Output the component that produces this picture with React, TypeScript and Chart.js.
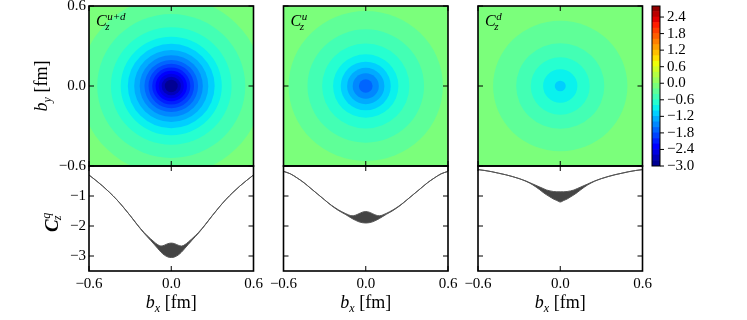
import React, { useEffect, useRef } from "react";
import { Chart, registerables } from "chart.js";
Chart.register(...registerables);

// ---------- data ----------
const bx = [-0.6, -0.55, -0.5, -0.45, -0.4, -0.35, -0.3, -0.25, -0.2, -0.15, -0.125, -0.1, -0.075, -0.05, -0.025, 0,
  0.025, 0.05, 0.075, 0.1, 0.125, 0.15, 0.2, 0.25, 0.3, 0.35, 0.4, 0.45, 0.5, 0.55, 0.6];

const udUpper = [-0.30, -0.48, -0.67, -0.88, -1.11, -1.37, -1.65, -1.94, -2.21, -2.43, -2.53, -2.62, -2.67, -2.64, -2.59, -2.57,
  -2.59, -2.64, -2.67, -2.62, -2.53, -2.43, -2.21, -1.94, -1.65, -1.37, -1.11, -0.88, -0.67, -0.48, -0.30];
const udLower = [-0.30, -0.48, -0.67, -0.88, -1.11, -1.37, -1.65, -1.95, -2.23, -2.48, -2.61, -2.74, -2.87, -2.97, -3.03, -3.05,
  -3.03, -2.97, -2.87, -2.74, -2.61, -2.48, -2.23, -1.95, -1.65, -1.37, -1.11, -0.88, -0.67, -0.48, -0.30];

const uUpper = [-0.18, -0.26, -0.40, -0.56, -0.75, -0.94, -1.13, -1.31, -1.46, -1.58, -1.63, -1.66, -1.64, -1.59, -1.54, -1.52,
  -1.54, -1.59, -1.64, -1.66, -1.63, -1.58, -1.46, -1.31, -1.13, -0.94, -0.75, -0.56, -0.40, -0.26, -0.18];
const uLower = [-0.18, -0.26, -0.40, -0.56, -0.75, -0.94, -1.13, -1.32, -1.48, -1.61, -1.68, -1.75, -1.81, -1.86, -1.89, -1.90,
  -1.89, -1.86, -1.81, -1.75, -1.68, -1.61, -1.48, -1.32, -1.13, -0.94, -0.75, -0.56, -0.40, -0.26, -0.18];

const dUpper = [-0.12, -0.15, -0.19, -0.24, -0.29, -0.35, -0.42, -0.50, -0.60, -0.70, -0.75, -0.80, -0.83, -0.85, -0.86, -0.86,
  -0.86, -0.85, -0.83, -0.80, -0.75, -0.70, -0.60, -0.50, -0.42, -0.35, -0.29, -0.24, -0.19, -0.15, -0.12];
const dLower = [-0.12, -0.15, -0.19, -0.24, -0.29, -0.35, -0.42, -0.51, -0.63, -0.79, -0.88, -0.96, -1.03, -1.10, -1.15, -1.20,
  -1.15, -1.10, -1.03, -0.96, -0.88, -0.79, -0.63, -0.51, -0.42, -0.35, -0.29, -0.24, -0.19, -0.15, -0.12];

// radial profiles of the 2D maps, radius in fm
const heatR = [0, 0.05, 0.1, 0.15, 0.2, 0.25, 0.3, 0.35, 0.4, 0.45, 0.5, 0.55, 0.6, 0.65, 0.7, 0.75, 0.8, 0.85];
const heatUD = [-2.95, -2.79, -2.32, -1.91, -1.57, -1.29, -1.07, -0.86, -0.70, -0.575, -0.48, -0.38, -0.30, -0.22, -0.16, -0.12, -0.09, -0.07];
const heatU = [-1.72, -1.60, -1.38, -1.13, -0.93, -0.76, -0.64, -0.53, -0.44, -0.36, -0.29, -0.21, -0.17, -0.14, -0.11, -0.09, -0.075, -0.06];
const heatD = [-1.04, -0.99, -0.86, -0.74, -0.63, -0.53, -0.43, -0.36, -0.30, -0.24, -0.19, -0.15, -0.12, -0.10, -0.085, -0.07, -0.06, -0.05];

const levels = [-3.0, -2.8, -2.6, -2.4, -2.2, -2.0, -1.8, -1.6, -1.4, -1.2, -1.0, -0.8, -0.6, -0.4, -0.2, 0.0,
  0.2, 0.4, 0.6, 0.8, 1.0, 1.2, 1.4, 1.6, 1.8, 2.0, 2.2, 2.4, 2.6, 2.8];
const cbTicks = [-3.0, -2.4, -1.8, -1.2, -0.6, 0.0, 0.6, 1.2, 1.8, 2.4];
const bTicks = [-0.6, 0.0, 0.6];
const cTicks = [-1, -2, -3];
const panelTags = ["u+d", "u", "d"];

// ---------- layout ----------
const W = 747, H = 320;
const panelL = [89, 283.5, 478];
const panelW = 164.5;
const topT = 6, midY = 166, botB = 271;
const cbL = 652, cbR = 660;
const SERIF = "'Liberation Serif', 'DejaVu Serif', serif";

// ---------- colours ----------
const JR = [[0, 0], [0.35, 0], [0.66, 1], [0.89, 1], [1, 0.5]];
const JG = [[0, 0], [0.125, 0], [0.375, 1], [0.64, 1], [0.91, 0], [1, 0]];
const JB = [[0, 0.5], [0.11, 1], [0.34, 1], [0.65, 0], [1, 0]];
function seg(s: number[][], t: number) {
  for (let i = 0; i < s.length - 1; i++) {
    if (t <= s[i + 1][0]) {
      const f = (t - s[i][0]) / (s[i + 1][0] - s[i][0]);
      return s[i][1] + f * (s[i + 1][1] - s[i][1]);
    }
  }
  return s[s.length - 1][1];
}
function jet(t: number) {
  t = Math.max(0, Math.min(1, t));
  return `rgb(${Math.round(seg(JR, t) * 255)},${Math.round(seg(JG, t) * 255)},${Math.round(seg(JB, t) * 255)})`;
}
function bandColor(i: number) {
  const mid = (levels[i] + levels[i + 1]) / 2;
  return jet((mid - levels[0]) / (levels[levels.length - 1] - levels[0]));
}
function bandOf(v: number) {
  let k = 0;
  for (let i = 0; i < levels.length - 1; i++) if (levels[i] <= v) k = i;
  return Math.min(k, levels.length - 2);
}
const fmt = (v: number, d: number) => (v < 0 ? "\u2212" : "") + Math.abs(v).toFixed(d);

// ---------- plugins ----------
function heatPlugin(rs: number[], vs: number[]) {
  return {
    id: "heat",
    beforeDatasetsDraw(chart: any) {
      const { ctx, chartArea: a, scales } = chart;
      const xs = scales.x, ys = scales.y;
      const cx = xs.getPixelForValue(0), cy = ys.getPixelForValue(0);
      ctx.save();
      ctx.beginPath();
      ctx.rect(a.left, a.top, a.width, a.height);
      ctx.clip();
      const top = bandOf(vs[vs.length - 1]);
      ctx.fillStyle = bandColor(top);
      ctx.fillRect(a.left, a.top, a.width, a.height);
      for (let k = top; k >= 1; k--) {
        const L = levels[k];
        let j = -1;
        for (let i = 0; i < vs.length; i++) if (vs[i] < L) j = i;
        if (j < 0 || j >= vs.length - 1) continue;
        const r = rs[j] + ((L - vs[j]) / (vs[j + 1] - vs[j])) * (rs[j + 1] - rs[j]);
        const rx = xs.getPixelForValue(r) - cx;
        const ry = cy - ys.getPixelForValue(r);
        ctx.beginPath();
        ctx.ellipse(cx, cy, rx, ry, 0, 0, Math.PI * 2);
        ctx.fillStyle = bandColor(k - 1);
        ctx.fill();
      }
      ctx.restore();
    },
  };
}

function framePlugin(xT: number[], yT: number[], extra?: (chart: any) => void) {
  return {
    id: "frame",
    afterDraw(chart: any) {
      const { ctx, chartArea: a, scales } = chart;
      ctx.save();
      ctx.strokeStyle = "#000";
      ctx.lineWidth = 1;
      ctx.beginPath();
      xT.forEach((v) => {
        const p = scales.x.getPixelForValue(v);
        ctx.moveTo(p, a.bottom); ctx.lineTo(p, a.bottom - 5);
        ctx.moveTo(p, a.top); ctx.lineTo(p, a.top + 5);
      });
      yT.forEach((v) => {
        const p = scales.y.getPixelForValue(v);
        ctx.moveTo(a.left, p); ctx.lineTo(a.left + 5, p);
        ctx.moveTo(a.right, p); ctx.lineTo(a.right - 5, p);
      });
      ctx.stroke();
      ctx.lineWidth = 1.6;
      ctx.strokeRect(a.left, a.top, a.width, a.height);
      ctx.restore();
      if (extra) { ctx.save(); extra(chart); ctx.restore(); }
    },
  };
}

function drawLabelB(ctx: CanvasRenderingContext2D, sub: string) {
  ctx.font = `italic 18px ${SERIF}`;
  const w1 = ctx.measureText("b").width;
  ctx.font = `italic 12px ${SERIF}`;
  const w2 = ctx.measureText(sub).width;
  ctx.font = `18px ${SERIF}`;
  const w3 = ctx.measureText(" [fm]").width;
  const total = w1 + w2 + w3;
  let x = -total / 2;
  ctx.fillStyle = "#000";
  ctx.textAlign = "left";
  ctx.textBaseline = "alphabetic";
  ctx.font = `italic 18px ${SERIF}`;
  ctx.fillText("b", x, 0); x += w1;
  ctx.font = `italic 12px ${SERIF}`;
  ctx.fillText(sub, x, 4); x += w2;
  ctx.font = `18px ${SERIF}`;
  ctx.fillText(" [fm]", x, 0);
}

function drawTag(ctx: CanvasRenderingContext2D, a: any, tag: string) {
  const x0 = a.left + 7, y0 = a.top + 20;
  ctx.fillStyle = "#000";
  ctx.textAlign = "left";
  ctx.textBaseline = "alphabetic";
  ctx.font = `italic 16px ${SERIF}`;
  ctx.fillText("C", x0, y0);
  const cw = ctx.measureText("C").width;
  ctx.font = `italic 11px ${SERIF}`;
  ctx.fillText(tag, x0 + cw + 0.5, y0 - 6);
  ctx.fillText("z", x0 + cw - 1.5, y0 + 4);
}

const baseOpts = (padding: any) => ({
  responsive: false,
  animation: false as const,
  devicePixelRatio: 1,
  events: [] as any[],
  layout: { padding },
  plugins: { legend: { display: false }, tooltip: { enabled: false } },
});

export default function App() {
  const canvases = useRef<(HTMLCanvasElement | null)[]>([]);

  useEffect(() => {
    const charts: Chart[] = [];
    const series = [
      { up: udUpper, lo: udLower, heat: heatUD },
      { up: uUpper, lo: uLower, heat: heatU },
      { up: dUpper, lo: dLower, heat: heatD },
    ];

    series.forEach((s, p) => {
      const L = panelL[p], R = L + panelW;
      const topCanvas = canvases.current[p * 2]!;
      charts.push(new Chart(topCanvas, {
        type: "scatter",
        data: { datasets: [] },
        options: {
          ...baseOpts({ left: L, right: W - R, top: topT, bottom: H - midY }),
          scales: {
            x: { type: "linear", min: -0.6, max: 0.6, display: false },
            y: { type: "linear", min: -0.6, max: 0.6, display: false },
          },
        } as any,
        plugins: [
          heatPlugin(heatR, s.heat),
          framePlugin(bTicks, bTicks, (chart) => {
            const { ctx, chartArea: a, scales } = chart;
            drawTag(ctx, a, panelTags[p]);
            if (p === 0) {
              ctx.font = `15px ${SERIF}`;
              ctx.fillStyle = "#000";
              ctx.textAlign = "right";
              ctx.textBaseline = "middle";
              bTicks.forEach((v) => ctx.fillText(fmt(v, 1), a.left - 3, scales.y.getPixelForValue(v)));
              ctx.save();
              ctx.translate(47, (a.top + a.bottom) / 2);
              ctx.rotate(-Math.PI / 2);
              drawLabelB(ctx, "y");
              ctx.restore();
            }
          }) as any,
        ],
      }));

      const botCanvas = canvases.current[p * 2 + 1]!;
      charts.push(new Chart(botCanvas, {
        type: "scatter",
        data: {
          datasets: [
            {
              data: bx.map((b, i) => ({ x: b, y: s.lo[i] })),
              showLine: true, borderColor: "#555", borderWidth: 1, pointRadius: 0,
              cubicInterpolationMode: "monotone", fill: false,
            },
            {
              data: bx.map((b, i) => ({ x: b, y: s.up[i] })),
              showLine: true, borderColor: "#555", borderWidth: 1, pointRadius: 0,
              cubicInterpolationMode: "monotone", fill: "-1", backgroundColor: "#444",
            },
          ],
        },
        options: {
          ...baseOpts({ left: L, right: W - R, top: midY, bottom: H - botB }),
          scales: {
            x: { type: "linear", min: -0.6, max: 0.6, display: false },
            y: { type: "linear", min: -3.5, max: 0, display: false },
          },
        } as any,
        plugins: [
          framePlugin(bTicks, cTicks, (chart) => {
            const { ctx, chartArea: a, scales } = chart;
            ctx.font = `15px ${SERIF}`;
            ctx.fillStyle = "#000";
            ctx.textAlign = "center";
            ctx.textBaseline = "alphabetic";
            bTicks.forEach((v) => ctx.fillText(fmt(v, 1), scales.x.getPixelForValue(v), a.bottom + 17));
            ctx.save();
            ctx.translate((a.left + a.right) / 2, 308);
            drawLabelB(ctx, "x");
            ctx.restore();
            if (p === 0) {
              ctx.font = `15px ${SERIF}`;
              ctx.textAlign = "right";
              ctx.textBaseline = "middle";
              cTicks.forEach((v) => ctx.fillText(fmt(v, 0), a.left - 3, scales.y.getPixelForValue(v)));
              ctx.save();
              ctx.translate(58, 232);
              ctx.rotate(-Math.PI / 2);
              ctx.textAlign = "left";
              ctx.textBaseline = "alphabetic";
              ctx.font = `italic bold 19px ${SERIF}`;
              ctx.fillText("C", 0, 0);
              const cw = ctx.measureText("C").width;
              ctx.font = `italic 12px ${SERIF}`;
              ctx.fillText("q", cw + 0.5, -8);
              ctx.fillText("z", cw - 1, 3);
              ctx.restore();
            }
          }) as any,
        ],
      }));
    });

    const cbCanvas = canvases.current[6]!;
    const bands = levels.slice(0, -1).map((lv, i) => ({
      data: [[lv, levels[i + 1]]],
      backgroundColor: bandColor(i),
      borderWidth: 0,
      grouped: false,
      barPercentage: 1,
      categoryPercentage: 1,
    }));
    charts.push(new Chart(cbCanvas, {
      type: "bar",
      data: { labels: ["cb"], datasets: bands as any },
      options: {
        ...baseOpts({ left: cbL, right: W - cbR, top: topT, bottom: H - midY }),
        scales: {
          x: { display: false },
          y: { type: "linear", min: levels[0], max: levels[levels.length - 1], display: false },
        },
      } as any,
      plugins: [
        {
          id: "cbframe",
          afterDraw(chart: any) {
            const { ctx, chartArea: a, scales } = chart;
            ctx.save();
            ctx.strokeStyle = "#000";
            ctx.lineWidth = 1;
            ctx.strokeRect(a.left, a.top, a.width, a.height);
            ctx.beginPath();
            cbTicks.forEach((v) => {
              const p = scales.y.getPixelForValue(v);
              ctx.moveTo(a.right, p); ctx.lineTo(a.right + 4, p);
            });
            ctx.stroke();
            ctx.font = `15px ${SERIF}`;
            ctx.fillStyle = "#000";
            ctx.textAlign = "left";
            ctx.textBaseline = "middle";
            cbTicks.forEach((v) => ctx.fillText(fmt(v, 1), a.right + 7, scales.y.getPixelForValue(v)));
            ctx.restore();
          },
        } as any,
      ],
    }));

    return () => charts.forEach((c) => c.destroy());
  }, []);

  return (
    <div style={{ position: "absolute", left: 0, top: 0, width: W, height: H, background: "#fff" }}>
      {Array.from({ length: 7 }).map((_, i) => (
        <canvas
          key={i}
          ref={(el) => { canvases.current[i] = el; }}
          width={W}
          height={H}
          style={{ position: "absolute", left: 0, top: 0, width: W, height: H }}
        />
      ))}
    </div>
  );
}
